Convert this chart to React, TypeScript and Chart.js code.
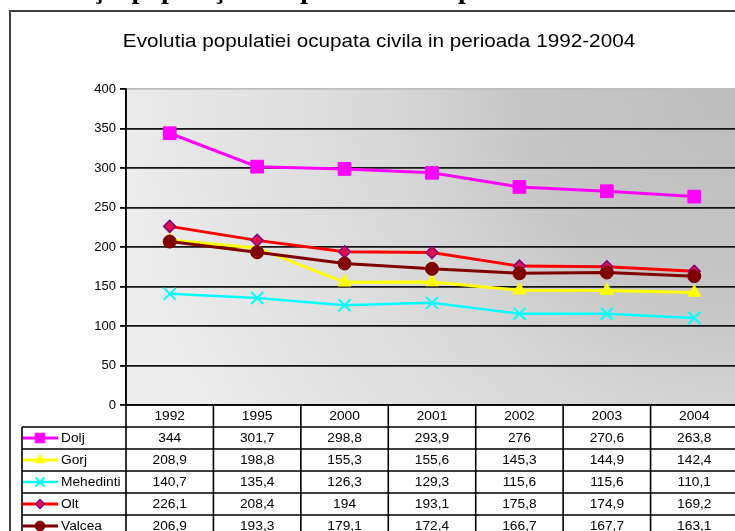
import { useEffect, useRef } from 'react';
import { Chart, registerables } from 'chart.js';
import { drawPoint } from 'chart.js/helpers';

Chart.register(...registerables);

const years = ['1992', '1995', '2000', '2001', '2002', '2003', '2004'];
const seriesNames = ['Dolj', 'Gorj', 'Mehedinti', 'Olt', 'Valcea'];
const dolj = [344, 301.7, 298.8, 293.9, 276, 270.6, 263.8];
const gorj = [208.9, 198.8, 155.3, 155.6, 145.3, 144.9, 142.4];
const mehedinti = [140.7, 135.4, 126.3, 129.3, 115.6, 115.6, 110.1];
const olt = [226.1, 208.4, 194, 193.1, 175.8, 174.9, 169.2];
const valcea = [206.9, 193.3, 179.1, 172.4, 166.7, 167.7, 163.1];
const yMin = 0;
const yMax = 400;
const yStep = 50;
const chartTitle = 'Evolutia populatiei ocupata civila in perioada 1992-2004';
const pageHeading = 'Evoluţia populaţiei ocupate civile în perioada 1992-2004';

const FONT = '"Liberation Sans", Arial, sans-serif';

function stretchText(ctx: CanvasRenderingContext2D, text: string, x: number, y: number, sx: number) {
  ctx.save();
  ctx.translate(x, y);
  ctx.scale(sx, 1);
  ctx.fillText(text, 0, 0);
  ctx.restore();
}

const tablePlugin = {
  id: 'tablePlugin',
  beforeDraw(chart: any) {
    const { ctx, chartArea: a } = chart;
    ctx.save();
    ctx.fillStyle = '#ffffff';
    ctx.fillRect(0, 0, chart.width, chart.height);
    const g = ctx.createRadialGradient(a.right, a.top, 0, a.right, a.top, a.right - a.left + 20);
    g.addColorStop(0, '#bcbcbc');
    g.addColorStop(0.35, '#c7c7c7');
    g.addColorStop(0.55, '#d7d7d7');
    g.addColorStop(1, '#ededed');
    ctx.fillStyle = g;
    ctx.fillRect(a.left, a.top, a.right - a.left, a.bottom - a.top);
    ctx.restore();
  },
  afterDraw(chart: any) {
    const { ctx, chartArea: a } = chart;
    const xs = chart.scales.x;
    const n = years.length;
    const colW = (a.right - a.left) / n;
    const rowH = 22;
    const headerTop = a.bottom;
    const bodyTop = headerTop + rowH;
    const legendLeft = 22;
    const nRows = seriesNames.length;
    const bottom = bodyTop + rowH * nRows;
    const sx = 1.1;
    ctx.save();

    // page heading (cut off at top)
    ctx.font = 'bold 28px "Liberation Serif", "Times New Roman", serif';
    ctx.fillStyle = '#000';
    ctx.textAlign = 'left';
    ctx.textBaseline = 'alphabetic';
    const pre = ctx.measureText('Evolu').width;
    const tw = ctx.measureText('ţ').width;
    ctx.fillText(pageHeading, 98 - pre - tw / 2, -2);

    // outer frame
    ctx.strokeStyle = '#404040';
    ctx.lineWidth = 2;
    ctx.strokeRect(10, 11, chart.width + 20, chart.height + 20);

    // title
    ctx.font = '19px ' + FONT;
    ctx.textAlign = 'center';
    ctx.textBaseline = 'middle';
    ctx.fillStyle = '#000';
    stretchText(ctx, chartTitle, 379, 42, 1.09);

    // table lines
    ctx.strokeStyle = '#000';
    ctx.lineWidth = 1.6;
    ctx.beginPath();
    ctx.moveTo(a.left, a.top);
    ctx.lineTo(a.left, bottom);
    for (let i = 1; i <= n; i++) {
      const x = a.left + colW * i;
      ctx.moveTo(x, headerTop);
      ctx.lineTo(x, bottom);
    }
    ctx.moveTo(legendLeft, bodyTop);
    ctx.lineTo(legendLeft, bottom);
    for (let r = 0; r <= nRows; r++) {
      const y = bodyTop + rowH * r;
      ctx.moveTo(legendLeft, y);
      ctx.lineTo(a.right, y);
    }
    ctx.moveTo(a.left, headerTop);
    ctx.lineTo(a.right, headerTop);
    ctx.stroke();

    // header text
    ctx.font = '12.5px ' + FONT;
    ctx.fillStyle = '#000';
    ctx.textAlign = 'center';
    ctx.textBaseline = 'middle';
    years.forEach((yr, i) => {
      stretchText(ctx, yr, xs.getPixelForValue(i), headerTop + rowH / 2 + 1, sx);
    });

    // rows
    chart.data.datasets.forEach((ds: any, r: number) => {
      const cy = bodyTop + rowH * r + rowH / 2 + 1;
      ctx.fillStyle = '#000';
      ctx.textAlign = 'center';
      ds.data.forEach((v: number, i: number) => {
        stretchText(ctx, String(v).replace('.', ','), xs.getPixelForValue(i), cy, sx);
      });
      // legend key
      const ly = bodyTop + rowH * r + rowH / 2;
      ctx.strokeStyle = ds.borderColor;
      ctx.lineWidth = ds.borderWidth;
      ctx.beginPath();
      ctx.moveTo(legendLeft + 1, ly);
      ctx.lineTo(58, ly);
      ctx.stroke();
      ctx.fillStyle = ds.pointBackgroundColor;
      ctx.strokeStyle = ds.pointBorderColor;
      ctx.lineWidth = ds.pointBorderWidth;
      drawPoint(ctx, { pointStyle: ds.pointStyle, rotation: 0, radius: ds.pointRadius * 0.75, borderWidth: ds.pointBorderWidth }, 40, ly);
      ctx.fillStyle = '#000';
      ctx.textAlign = 'left';
      stretchText(ctx, seriesNames[r], 61, cy, sx);
    });
    ctx.restore();
  },
};

export default function App() {
  const ref = useRef<HTMLCanvasElement>(null);
  useEffect(() => {
    const canvas = ref.current!;
    const mk = (label: string, data: number[], color: string, style: string, radius: number, pbg: string, pborder: string, pbw: number, bw: number, order: number) => ({
      label,
      data,
      borderColor: color,
      backgroundColor: color,
      borderWidth: bw,
      pointStyle: style,
      pointRadius: radius,
      pointBackgroundColor: pbg,
      pointBorderColor: pborder,
      pointBorderWidth: pbw,
      tension: 0,
      order,
    });
    const chart = new Chart(canvas, {
      type: 'line',
      data: {
        labels: years,
        datasets: [
          mk(seriesNames[0], dolj, '#ff00ff', 'rect', 9, '#ff00ff', '#ff00ff', 1, 3, 4),
          mk(seriesNames[1], gorj, '#ffff00', 'triangle', 7.5, '#ffff00', '#ffff00', 1, 3, 3),
          mk(seriesNames[2], mehedinti, '#00ffff', 'crossRot', 8.5, '#00ffff', '#00ffff', 2, 2.5, 2),
          mk(seriesNames[3], olt, '#ff0000', 'rectRot', 6, '#e0104a', '#800080', 1.5, 3, 1),
          mk(seriesNames[4], valcea, '#800000', 'circle', 6.5, '#800000', '#800000', 1, 3, 0),
        ],
      },
      options: {
        responsive: false,
        animation: false,
        devicePixelRatio: 1,
        layout: { padding: { top: 89, right: 22, bottom: 155, left: 0 } },
        plugins: { legend: { display: false }, title: { display: false }, tooltip: { enabled: false } },
        scales: {
          x: { type: 'category', offset: true, display: false },
          y: {
            min: yMin,
            max: yMax,
            ticks: { stepSize: yStep, color: '#000', font: { family: FONT, size: 13 }, padding: 4 },
            grid: {
              color: (c: any) => (c.tick && c.tick.value === yMax ? '#bdbdbd' : '#151515'),
              lineWidth: 1.8,
              tickColor: '#000',
              tickLength: 6,
            },
            border: { display: true, color: '#000', width: 1.6 },
            afterFit: (s: any) => {
              s.width = 126;
            },
          },
        },
      },
      plugins: [tablePlugin],
    } as any);
    return () => chart.destroy();
  }, []);
  return (
    <div style={{ position: 'fixed', left: 0, top: 0, width: 735, height: 531, overflow: 'hidden', background: '#fff' }}>
      <canvas ref={ref} width={760} height={560} style={{ width: 760, height: 560, display: 'block' }} />
    </div>
  );
}
